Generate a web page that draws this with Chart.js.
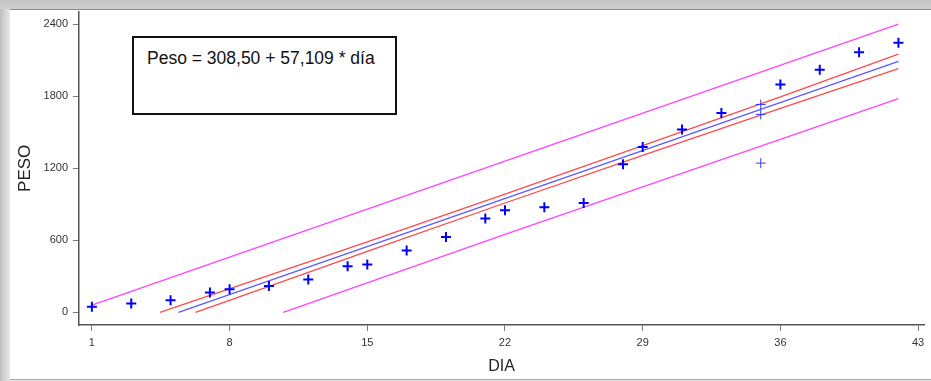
<!DOCTYPE html>
<html>
<head>
<meta charset="utf-8">
<script src="https://cdn.jsdelivr.net/npm/chart.js"></script>
<style>
  html, body { margin: 0; padding: 0; }
  body {
    width: 931px; height: 381px; overflow: hidden; position: relative;
    background: linear-gradient(to right, #bdbdbd 0px, #d6d6d6 5px, #e6e6e6 10px);
  }
  #topband {
    position: absolute; left: 0; top: 0; width: 931px; height: 9px;
    background: linear-gradient(to bottom, #c4c4c4, #cfcfcf);
  }
  #panel {
    position: absolute; left: 10px; top: 9px; width: 921px; height: 369px;
    background: #fff; border-top: 1px solid #8a8a8a; border-bottom: 1px solid #a8a8a8;
  }
  #wrap { position: absolute; left: 0; top: 0; width: 931px; height: 381px; }
  #ecuacion {
    position: absolute; left: 132px; top: 36px; width: 261px; height: 75px;
    border: 2px solid #111; background: #fff;
    font-family: "Liberation Sans", Arial, sans-serif; font-size: 17.5px;
    color: #111; white-space: nowrap;
  }
  #ecuacion span { position: absolute; left: 13px; top: 10px; }
</style>
</head>
<body>
<div id="topband"></div>
<div id="panel"></div>
<div id="wrap"><canvas id="grafico" width="931" height="381"></canvas></div>
<div id="ecuacion"><span>Peso = 308,50 + 57,109 * día</span></div>
<script>
// observaciones (día, peso)
const dias  = [1, 3, 5, 7, 8, 10, 12, 14, 15, 17, 19, 21, 22, 24, 26, 28, 29, 31, 33, 36, 38, 40, 42];
const pesos = [46, 75, 102, 166, 193, 220, 273, 384, 398, 516, 627, 781, 850, 875, 911, 1234, 1378, 1524, 1660, 1897, 2021, 2167, 2245];
// tres observaciones del día 35 (trazo fino)
const dias35  = [35, 35, 35];
const pesos35 = [1731, 1649, 1243];

// recta ajustada
const ajusteX = [5.4, 42];
const ajusteY = [0, 2090];
// intervalo de confianza
const icSupX = [4.46, 10, 15, 22, 29, 36, 42];
const icSupY = [0, 309, 588, 985, 1388, 1795, 2151];
const icInfX = [6.27, 10, 15, 22, 29, 36, 42];
const icInfY = [0, 217, 508, 911, 1308, 1699, 2030];
// intervalo de predicción
const ipSupX = [1, 22, 42];
const ipSupY = [60, 1260, 2400];
const ipInfX = [10.73, 22, 42];
const ipInfY = [0, 650, 1781];

// ticks
const ticksX = [1, 8, 15, 22, 29, 36, 43];
const ticksY = [0, 600, 1200, 1800, 2400];

function pares(xs, ys) {
  return xs.map((x, i) => ({ x: x, y: ys[i] }));
}

function linea(xs, ys, color) {
  return {
    data: pares(xs, ys),
    showLine: true,
    borderColor: color,
    borderWidth: 1.3,
    pointRadius: 0,
    fill: false,
  };
}

var ctx = document.getElementById("grafico").getContext("2d");

var grafico = new Chart(ctx, {
  type: "scatter",
  data: {
    datasets: [
      {
        data: pares(dias, pesos),
        pointStyle: "cross",
        pointRadius: 5,
        borderColor: "#0000ff",
        backgroundColor: "#0000ff",
        borderWidth: 2,
      },
      {
        data: pares(dias35, pesos35),
        pointStyle: "cross",
        pointRadius: 5,
        borderColor: "#3a3aff",
        borderWidth: 1,
      },
      linea(ajusteX, ajusteY, "#5a5aff"),
      linea(icSupX, icSupY, "#ff4a4a"),
      linea(icInfX, icInfY, "#ff4a4a"),
      linea(ipSupX, ipSupY, "#ff44ff"),
      linea(ipInfX, ipInfY, "#ff44ff"),
    ],
  },
  options: {
    responsive: false,
    animation: false,
    layout: { padding: { left: 0, right: 0, top: 10, bottom: 0 } },
    plugins: { legend: { display: false }, tooltip: { enabled: false } },
    scales: {
      x: {
        type: "linear",
        min: 0.345,
        max: 43.3,
        afterBuildTicks: (s) => { s.ticks = ticksX.map((v) => ({ value: v })); },
        afterFit: (s) => { s.height = 56; },
        grid: { drawOnChartArea: false, drawTicks: true, tickLength: 6, color: "#777" },
        border: { display: true, color: "#555", width: 1.5 },
        ticks: {
          autoSkip: false, maxRotation: 0, padding: 5, color: "#333",
          callback: (v) => String(v),
          font: { family: "Liberation Sans, Arial, sans-serif", size: 11 },
        },
        title: {
          display: true, text: "DIA", color: "#222",
          font: { family: "Liberation Sans, Arial, sans-serif", size: 16 },
          padding: { top: 0, bottom: 4.5 },
        },
      },
      y: {
        min: -105,
        max: 2505,
        afterBuildTicks: (s) => { s.ticks = ticksY.map((v) => ({ value: v })); },
        afterFit: (s) => { s.width = 79; },
        grid: { drawOnChartArea: false, drawTicks: true, tickLength: 6, color: "#777" },
        border: { display: true, color: "#555", width: 1.5 },
        ticks: {
          padding: 5, color: "#333",
          callback: (v) => String(v),
          font: { family: "Liberation Sans, Arial, sans-serif", size: 11 },
        },
        title: {
          display: true, text: "PESO", color: "#222",
          font: { family: "Liberation Sans, Arial, sans-serif", size: 17 },
          padding: { top: 15, bottom: 0 },
        },
      },
    },
  },
});
</script>
</body>
</html>
